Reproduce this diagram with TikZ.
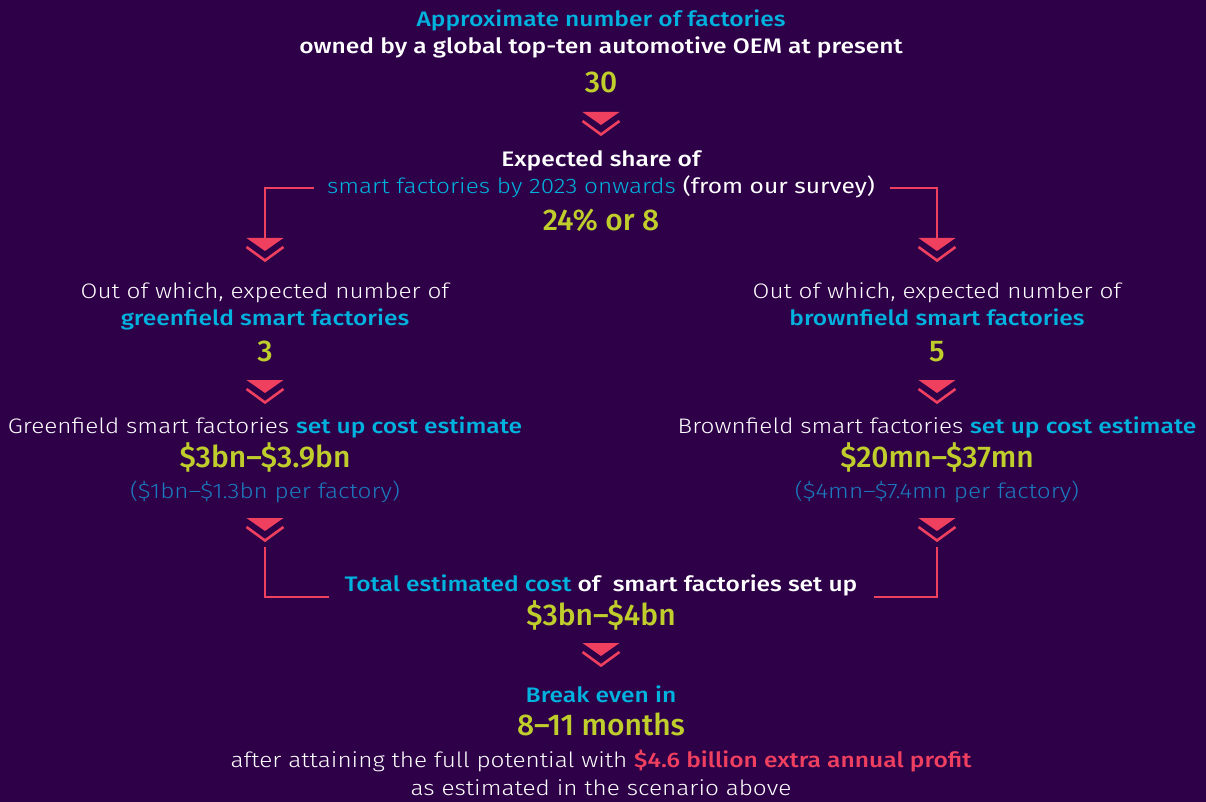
\documentclass[tikz,border=0pt]{standalone}
\usepackage{fontspec}
\setmainfont{Fira Sans}[FakeStretch=1.17]
\newfontfamily\lightfont{Fira Sans Light}[FakeStretch=1.16]
\newfontfamily\medfont{Fira Sans Medium}[FakeStretch=1.17]
\newfontfamily\numfont{Fira Sans Medium}
\usetikzlibrary{positioning}
\definecolor{bgpurple}{RGB}{46,0,72}
\definecolor{headcyan}{RGB}{0,178,222}
\definecolor{numgreen}{RGB}{192,206,44}
\definecolor{linkred}{RGB}{240,64,96}
\definecolor{noteblue}{RGB}{28,122,190}
\tikzset{
	txt/.style={anchor=base,inner sep=0pt,text=white,font=\fontsize{21}{25}\selectfont\lightfont},
	head/.style={txt,font=\fontsize{21}{25}\selectfont\medfont},
	num/.style={txt,text=numgreen,font=\fontsize{30}{34}\selectfont\numfont},
	note/.style={txt,text=noteblue},
	link/.style={draw=linkred,line width=2pt},
	chevron/.pic={
		\fill[linkred] (-18.5,0) -- (18.5,0) -- (0,13) -- cycle;
		\draw[linkred,line width=2.6pt] (-18.5,9) -- (0,22.5) -- (18.5,9);
	}
}
\begin{document}
\begin{tikzpicture}[x=1pt,y=-1pt]
	\fill[bgpurple] (0,0) rectangle (1206,802);
	\useasboundingbox (0,0) rectangle (1206,802);
	%%%top block
	\node[head,text=headcyan] (approx) at (601,27) {Approximate number of factories};
	\node[head] (owned) at (601,54) {owned by a global top-ten automotive OEM at present};
	\node[num] (thirty) at (601,93) {30};
	\coordinate (c0) at (601,112);
	\pic at (c0) {chevron};
	%%%share
	\node[head] (share) at (601,167) {Expected share of};
	\node[txt] (smart) at (601,194) {\textcolor{headcyan}{smart factories by 2023 onwards} {\rmfamily(from our survey)}};
	\node[num] (share8) at (601,231) {24\% or 8};
	\coordinate (cL1) at (265,238);
	\coordinate (cR1) at (937,238);
	\pic at (cL1) {chevron};
	\pic at (cR1) {chevron};
	\draw[link] ([xshift=-13pt,yshift=6pt]smart.base west) -| (cL1);
	\draw[link] ([xshift=15pt,yshift=6pt]smart.base east) -| (cR1);
	%%%greenfield
	\node[txt] (outL) at (265,298) {Out of which, expected number of};
	\node[head,text=headcyan] (green) at (265,325) {greenfield smart factories};
	\node[num] (three) at (265,361) {3};
	\coordinate (cL2) at (265,380);
	\pic at (cL2) {chevron};
	\node[txt] (costL) at (265,433) {Greenfield smart factories \textcolor{headcyan}{\medfont set up cost estimate}};
	\node[num] (sumL) at (265,467) {\$3bn–\$3.9bn};
	\node[note] (perL) at (265,498) {(\$1bn–\$1.3bn per factory)};
	\coordinate (cL3) at (265,518);
	\pic at (cL3) {chevron};
	%%%brownfield
	\node[txt] (outR) at (937,298) {Out of which, expected number of};
	\node[head,text=headcyan] (brown) at (937,325) {brownfield smart factories};
	\node[num] (five) at (937,361) {5};
	\coordinate (cR2) at (937,380);
	\pic at (cR2) {chevron};
	\node[txt] (costR) at (937,433) {Brownfield smart factories \textcolor{headcyan}{\medfont set up cost estimate}};
	\node[num] (sumR) at (937,467) {\$20mn–\$37mn};
	\node[note] (perR) at (937,498) {(\$4mn–\$7.4mn per factory)};
	\coordinate (cR3) at (937,518);
	\pic at (cR3) {chevron};
	%%%total
	\node[head] (total) at (601,591) {\textcolor{headcyan}{Total estimated cost} of \ smart factories set up};
	\node[num] (sumT) at (601,625) {\$3bn–\$4bn};
	\coordinate (outL3) at (265,547);
	\coordinate (outR3) at (937,547);
	\draw[link] (outL3) |- ([xshift=-15pt,yshift=-6pt]total.base west);
	\draw[link] (outR3) |- ([xshift=16pt,yshift=-6pt]total.base east);
	\coordinate (c4) at (601,643);
	\pic at (c4) {chevron};
	%%%break even
	\node[head,text=headcyan] (brk) at (601,702) {Break even in};
	\node[num] (months) at (601,735) {8–11 months};
	\node[txt] (after) at (601,767) {after attaining the full potential with \textcolor{linkred}{\medfont\$4.6 billion extra annual profit}};
	\node[txt] (scen) at (601,795) {as estimated in the scenario above};
\end{tikzpicture}
\end{document}
